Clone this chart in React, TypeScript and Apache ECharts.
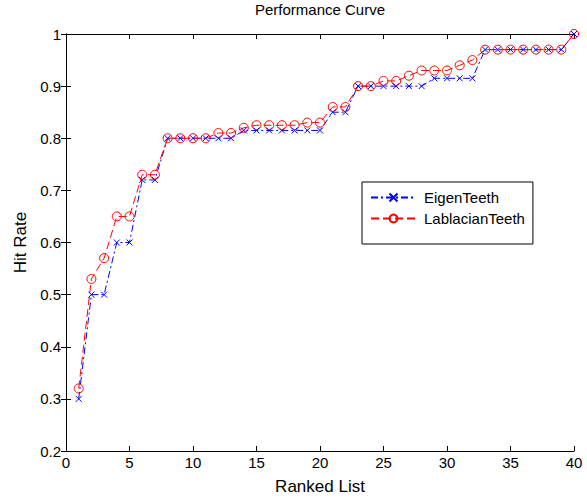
import React, { useEffect, useRef } from "react";
import * as echarts from "echarts";

const ranks = [
  1, 2, 3, 4, 5, 6, 7, 8, 9, 10, 11, 12, 13, 14, 15, 16, 17, 18, 19, 20,
  21, 22, 23, 24, 25, 26, 27, 28, 29, 30, 31, 32, 33, 34, 35, 36, 37, 38, 39, 40,
];
const eigenTeeth = [
  0.3, 0.5, 0.5, 0.6, 0.6, 0.72, 0.72, 0.8, 0.8, 0.8, 0.8, 0.8, 0.8, 0.815, 0.815, 0.815, 0.815, 0.815, 0.815, 0.815,
  0.85, 0.85, 0.9, 0.9, 0.9, 0.9, 0.9, 0.9, 0.915, 0.915, 0.915, 0.915, 0.97, 0.97, 0.97, 0.97, 0.97, 0.97, 0.97, 1.0,
];
const lablacianTeeth = [
  0.32, 0.53, 0.57, 0.65, 0.65, 0.73, 0.73, 0.8, 0.8, 0.8, 0.8, 0.81, 0.81, 0.82, 0.825, 0.825, 0.825, 0.825, 0.83, 0.83,
  0.86, 0.86, 0.9, 0.9, 0.91, 0.91, 0.92, 0.93, 0.93, 0.93, 0.94, 0.95, 0.97, 0.97, 0.97, 0.97, 0.97, 0.97, 0.97, 1.0,
];
const seriesNames = ["EigenTeeth", "LablacianTeeth"];

const FONT = "Liberation Sans, Arial, sans-serif";

export default function App() {
  const ref = useRef<HTMLDivElement>(null);
  useEffect(() => {
    if (!ref.current) return;
    const chart = echarts.init(ref.current, null, { renderer: "svg" });
    const pair = (ys: number[]) => ranks.map((x, i) => [x, ys[i]]);
    const axisCommon = {
      axisLine: { show: true, lineStyle: { color: "#000", width: 1 } },
      axisTick: { show: true, inside: true, length: 5, lineStyle: { color: "#000" } },
      splitLine: { show: false },
    };
    chart.setOption({
      animation: false,
      backgroundColor: "#fff",
      textStyle: { fontFamily: FONT },
      grid: { left: 66, right: 13, top: 34, bottom: 47, containLabel: false },
      graphic: [
        {
          type: "text",
          left: 255,
          top: 2,
          style: { text: "Performance Curve", fontSize: 15, fontFamily: FONT, fill: "#000" },
        },
      ],
      legend: {
        orient: "vertical",
        left: 362,
        top: 182,
        itemWidth: 45,
        itemHeight: 10,
        itemGap: 6,
        padding: [8, 8, 18, 8],
        borderColor: "#000",
        borderWidth: 1,
        backgroundColor: "#fff",
        textStyle: { fontSize: 15, color: "#000", fontFamily: FONT, padding: [0, 0, 0, 3] },
        data: seriesNames,
      },
      xAxis: [
        {
          type: "value",
          min: 0,
          max: 40,
          interval: 5,
          position: "bottom",
          name: "Ranked List",
          nameLocation: "middle",
          nameGap: 27,
          nameTextStyle: { fontSize: 17, color: "#000", fontFamily: FONT },
          axisLabel: { fontSize: 15, color: "#000", margin: 4, fontFamily: FONT },
          ...axisCommon,
        },
        {
          type: "value",
          min: 0,
          max: 40,
          interval: 5,
          position: "top",
          axisLabel: { show: false },
          ...axisCommon,
        },
      ],
      yAxis: [
        {
          type: "value",
          min: 0.2,
          max: 1,
          interval: 0.1,
          position: "left",
          name: "Hit Rate",
          nameLocation: "middle",
          nameGap: 37,
          nameTextStyle: { fontSize: 17, color: "#000", fontFamily: FONT },
          axisLabel: {
            fontSize: 15,
            color: "#000",
            margin: 5,
            fontFamily: FONT,
            formatter: (v: number) => String(Math.round(v * 10) / 10),
          },
          ...axisCommon,
        },
        {
          type: "value",
          min: 0.2,
          max: 1,
          interval: 0.1,
          position: "right",
          axisLabel: { show: false },
          ...axisCommon,
        },
      ],
      series: [
        {
          name: seriesNames[0],
          type: "line",
          data: pair(eigenTeeth),
          symbol: "path://M0 0L10 10M10 0L0 10",
          symbolSize: 6,
          color: "#0000ff",
          itemStyle: { color: "none", borderColor: "#0000ff", borderWidth: 1 },
          lineStyle: { color: "#0000ff", width: 1, type: [7, 3, 2, 3] },
        },
        {
          name: seriesNames[1],
          type: "line",
          data: pair(lablacianTeeth),
          symbol: "circle",
          symbolSize: 9,
          color: "#ff0000",
          itemStyle: { color: "transparent", borderColor: "#ff0000", borderWidth: 1 },
          lineStyle: { color: "#ff0000", width: 1, type: [8, 4] },
        },
      ],
    });
    return () => chart.dispose();
  }, []);
  return (
    <div
      ref={ref}
      style={{ position: "fixed", left: 0, top: 0, width: 587, height: 500, background: "#fff" }}
    />
  );
}
